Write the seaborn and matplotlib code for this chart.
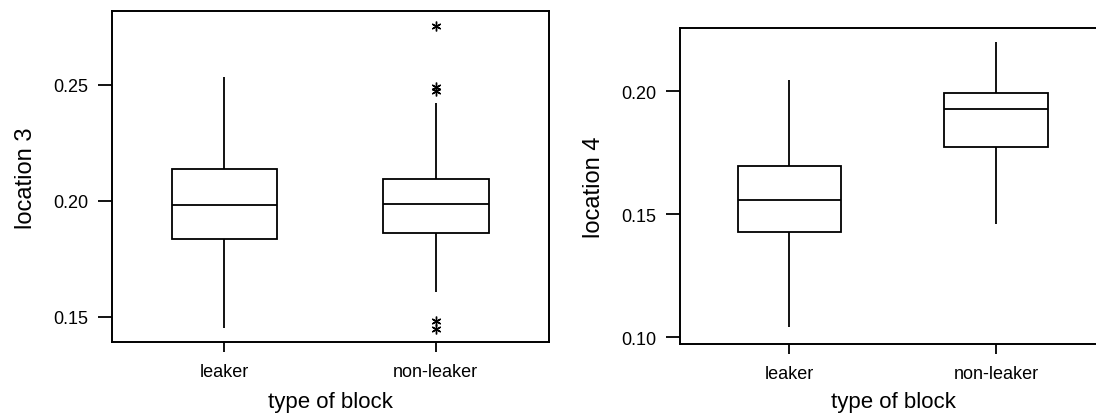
import numpy as np
import pandas as pd
import matplotlib
matplotlib.use("Agg")
import matplotlib.pyplot as plt
import seaborn as sns

# ---------------- data ----------------
categories = ["leaker", "non-leaker"]

# location 3: box-plot summaries per category
loc3_whislo = [0.1450, 0.1608]
loc3_q1 = [0.1836, 0.1863]
loc3_med = [0.1980, 0.1987]
loc3_q3 = [0.2138, 0.2096]
loc3_whishi = [0.2534, 0.2422]
loc3_out_low = [[], [0.1446, 0.1480]]
loc3_out_high = [[], [0.2474, 0.2489, 0.2752]]

# location 4: box-plot summaries per category
loc4_whislo = [0.1043, 0.1461]
loc4_q1 = [0.1430, 0.1772]
loc4_med = [0.1560, 0.1928]
loc4_q3 = [0.1695, 0.1992]
loc4_whishi = [0.2047, 0.2202]
loc4_out_low = [[], []]
loc4_out_high = [[], []]

loc3_ticks = [0.15, 0.20, 0.25]
loc4_ticks = [0.10, 0.15, 0.20]


def sample_from_summary(lo, q1, med, q3, hi, out_lo, out_hi):
    """Smallest sample whose quartiles / whiskers / outliers equal the summary."""
    m = max(len(out_lo), len(out_hi)) + 1
    below = sorted(out_lo) + [lo] + [q1] * (m - len(out_lo) - 1)
    mid1 = [med] * (m - 1)
    mid2 = [med] * (m - 1)
    above = [q3] * (m - len(out_hi) - 1) + [hi] + sorted(out_hi)
    return below + [q1] + mid1 + [med] + mid2 + [q3] + above


def build_frame(name, whislo, q1, med, q3, whishi, out_lo, out_hi):
    rows = []
    for i, cat in enumerate(categories):
        vals = sample_from_summary(whislo[i], q1[i], med[i], q3[i], whishi[i],
                                   out_lo[i], out_hi[i])
        rows += [{"type of block": cat, name: v} for v in vals]
    return pd.DataFrame(rows)


df3 = build_frame("location 3", loc3_whislo, loc3_q1, loc3_med, loc3_q3,
                  loc3_whishi, loc3_out_low, loc3_out_high)
df4 = build_frame("location 4", loc4_whislo, loc4_q1, loc4_med, loc4_q3,
                  loc4_whishi, loc4_out_low, loc4_out_high)

# ---------------- style ----------------
sns.set_style("ticks")
plt.rcParams["font.family"] = ["Liberation Sans", "DejaVu Sans"]

fig = plt.figure(figsize=(10.96, 4.14), dpi=100)
ax1 = fig.add_axes([0.1025, 0.1708, 0.3985, 0.7995])
ax2 = fig.add_axes([0.6207, 0.1667, 0.3891, 0.7640])

flier = dict(marker=(6, 2, 0), markersize=7, markeredgecolor="black",
             markerfacecolor="black", markeredgewidth=1.0)


def draw(ax, df, col, ylim, xlim, ticks, label_x, label_y):
    sns.boxplot(data=df, x="type of block", y=col, order=categories, ax=ax,
                color="white", linecolor="black", linewidth=1.3, width=0.5,
                whis=1.5, showcaps=False, flierprops=flier,
                medianprops=dict(color="black", linewidth=1.3))
    ax.set_xlim(*xlim)
    ax.set_ylim(*ylim)
    ax.set_yticks(ticks)
    ax.set_yticklabels([f"{t:.2f}" for t in ticks])
    for s in ax.spines.values():
        s.set_visible(True)
        s.set_color("black")
        s.set_linewidth(1.4)
    ax.tick_params(axis="y", direction="out", length=10, width=1.3,
                   color="black", labelsize=13, pad=7, labelcolor="black")
    ax.tick_params(axis="x", direction="out", length=7.5, width=1.3,
                   color="black", labelsize=13, pad=7.5, labelcolor="black")
    ax.set_xlabel("type of block", fontsize=16, color="black")
    ax.set_ylabel(col, fontsize=17, color="black")
    ax.xaxis.set_label_coords(0.5, label_x)
    ax.yaxis.set_label_coords(label_y, 0.5)
    ax.grid(False)


draw(ax1, df3, "location 3", (0.13893, 0.28175), (-0.530, 1.536),
     loc3_ticks, -0.1462, -0.1724)
draw(ax2, df4, "location 4", (0.09728, 0.22585), (-0.527, 1.536),
     loc4_ticks, -0.1477, -0.1766)

fig.savefig("out.png", dpi=100, facecolor="white")
